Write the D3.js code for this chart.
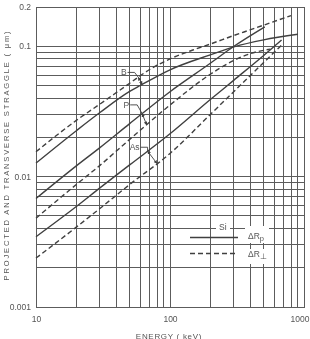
<!DOCTYPE html>
<html><head><meta charset="utf-8">
<script src="https://cdn.jsdelivr.net/npm/d3@7"></script>
<style>
html,body{margin:0;padding:0;background:#fff;overflow:hidden}
svg{display:block;filter:grayscale(100%)}
text{font-family:"Liberation Sans",Arial,sans-serif;fill:#555}
</style></head><body>
<svg id="c" width="310" height="339"></svg>
<script>
// ---- data ----
const energyTicks = [10, 100, 1000];
const energyTickLabels = ["10", "100", "1000"];
const straggleTicks = [0.001, 0.01, 0.1, 0.2];
const straggleTickLabels = ["0.001", "0.01", "0.1", "0.2"];

// Boron
const bRpE = [10, 20, 30, 50, 60, 100, 200, 300, 500, 900];
const bRpV = [0.0127, 0.0225, 0.031, 0.045, 0.050, 0.066, 0.086, 0.099, 0.112, 0.1235];
const bRtE = [10, 20, 30, 50, 70, 100, 150, 200, 300, 400, 600, 800];
const bRtV = [0.0155, 0.027, 0.036, 0.052, 0.066, 0.080, 0.094, 0.104, 0.121, 0.134, 0.155, 0.172];
// Phosphorus
const pRpE = [10, 20, 30, 50, 100, 200, 300, 510];
const pRpV = [0.0068, 0.0121, 0.0167, 0.0255, 0.0448, 0.074, 0.100, 0.141];
const pRtE = [10, 20, 30, 50, 100, 200, 300, 400, 560];
const pRtV = [0.0048, 0.0087, 0.0122, 0.0193, 0.0354, 0.061, 0.078, 0.088, 0.095];
// Arsenic
const asRpE = [10, 20, 30, 50, 100, 200, 300, 500, 680];
const asRpV = [0.00346, 0.0059, 0.0082, 0.0123, 0.0213, 0.039, 0.055, 0.085, 0.1117];
const asRtE = [10, 20, 30, 50, 100, 200, 300, 500, 700];
const asRtV = [0.00237, 0.0041, 0.0057, 0.0087, 0.01505, 0.030, 0.045, 0.075, 0.105];

// annotation labels (data coordinates)
const annLabels = ["B", "P", "As"];
const annTextE = [43, 45, 50];
const annTextV = [0.063, 0.0355, 0.0168];
const annUpperE = [58, 62, 68];
const annLowerE = [62, 67, 80];

// ---- chart ----
const svg = d3.select("#c");
const x = d3.scaleLog().domain([10, 1000]).range([36, 304]);
const y = d3.scaleLog().domain([0.001, 0.2]).range([307, 7]);
const ink = "#404040", gridC = "#5c5c5c", txt = "#555";
const ff = "Liberation Sans, Arial, sans-serif";

const defs = svg.append("defs");
defs.append("marker").attr("id", "ah").attr("viewBox", "0 0 10 10")
  .attr("refX", 9).attr("refY", 5).attr("markerWidth", 4).attr("markerHeight", 4)
  .attr("orient", "auto-start-reverse")
  .append("path").attr("d", "M0,0L10,5L0,10z").attr("fill", ink);

// grid
const xGridVals = x.ticks();
const yGridVals = y.ticks().filter(v => v <= 0.1 + 1e-9);
svg.append("g").selectAll("line").data(xGridVals).join("line")
  .attr("x1", d => x(d)).attr("x2", d => x(d)).attr("y1", y(0.2)).attr("y2", y(0.001))
  .attr("stroke", gridC).attr("stroke-width", 1).attr("shape-rendering", "crispEdges");
svg.append("g").selectAll("line").data(yGridVals).join("line")
  .attr("x1", x(10)).attr("x2", x(1000)).attr("y1", d => y(d)).attr("y2", d => y(d))
  .attr("stroke", gridC).attr("stroke-width", 1).attr("shape-rendering", "crispEdges");
svg.append("rect").attr("x", x(10)).attr("y", y(0.2))
  .attr("width", x(1000) - x(10)).attr("height", y(0.001) - y(0.2))
  .attr("fill", "none").attr("stroke", gridC).attr("shape-rendering", "crispEdges");

// axes labels
const xAx = d3.axisBottom(x).tickValues(energyTicks).tickSize(0).tickPadding(9)
  .tickFormat((d, i) => energyTickLabels[i]);
const gx = svg.append("g").attr("transform", `translate(0,${y(0.001)})`).call(xAx);
gx.select(".domain").remove();
gx.selectAll("text").attr("font-size", 8.5).attr("fill", txt).attr("font-family", ff);
gx.selectAll("text").each(function() {
  const el = d3.select(this);
  const w = this.getComputedTextLength();
  const tr = this.parentNode.getAttribute("transform");
  const px = +tr.match(/translate\(([-\d.]+)/)[1];
  if (px + w / 2 > 309.5) el.attr("text-anchor", "end").attr("x", 309.5 - px);
});

const yAx = d3.axisLeft(y).tickValues(straggleTicks).tickSize(0).tickPadding(5)
  .tickFormat((d, i) => straggleTickLabels[i]);
const gy = svg.append("g").attr("transform", `translate(${x(10)},0)`).call(yAx);
gy.select(".domain").remove();
gy.selectAll("text").attr("font-size", 8.5).attr("fill", txt).attr("font-family", ff);

svg.append("text").attr("x", 169).attr("y", 338.5).attr("text-anchor", "middle")
  .attr("font-size", 8).attr("letter-spacing", 0.7).attr("fill", txt).text("ENERGY ( keV)");
svg.append("text").attr("transform", "translate(8.5,155) rotate(-90)").attr("text-anchor", "middle")
  .attr("font-size", 7.6).attr("letter-spacing", 1.8).attr("fill", txt)
  .text("PROJECTED AND TRANSVERSE STRAGGLE ( μm)");

// curves
const series = [
  {e: bRpE, v: bRpV, dash: null}, {e: bRtE, v: bRtV, dash: "5,3"},
  {e: pRpE, v: pRpV, dash: null}, {e: pRtE, v: pRtV, dash: "5,3"},
  {e: asRpE, v: asRpV, dash: null}, {e: asRtE, v: asRtV, dash: "5,3"}
];
const line = d3.line().x(d => x(d[0])).y(d => y(d[1])).curve(d3.curveMonotoneX);
svg.append("g").selectAll("path").data(series).join("path")
  .attr("d", s => line(s.e.map((e, i) => [e, s.v[i]])))
  .attr("fill", "none").attr("stroke", ink).attr("stroke-width", 1.4)
  .attr("stroke-dasharray", s => s.dash);

// annotations
function interp(es, vs, E) {
  const le = Math.log10(E);
  for (let i = 0; i < es.length - 1; i++) {
    const a = Math.log10(es[i]), b = Math.log10(es[i + 1]);
    if (le >= a && le <= b) {
      const t = (le - a) / (b - a);
      return Math.pow(10, Math.log10(vs[i]) + t * (Math.log10(vs[i + 1]) - Math.log10(vs[i])));
    }
  }
  return vs[vs.length - 1];
}
const pairs = [[bRtE, bRtV, bRpE, bRpV], [pRpE, pRpV, pRtE, pRtV], [asRpE, asRpV, asRtE, asRtV]];
const ag = svg.append("g");
annLabels.forEach((lab, i) => {
  const tx = x(annTextE[i]), ty = y(annTextV[i]);
  const t = ag.append("text").attr("x", tx).attr("y", ty + 3).attr("font-size", 8.5)
    .attr("fill", txt).text(lab);
  const w = t.node().getComputedTextLength();
  const [ue, uv, le, lv] = pairs[i];
  const ux = x(annUpperE[i]), uy = y(interp(ue, uv, annUpperE[i]));
  const lx = x(annLowerE[i]), ly = y(interp(le, lv, annLowerE[i]));
  const hx = tx + w + 8;
  ag.append("path").attr("d", `M${tx + w + 1},${ty}L${hx},${ty}L${ux},${uy}`)
    .attr("fill", "none").attr("stroke", ink).attr("stroke-width", 0.9);
  ag.append("path").attr("d", `M${ux},${uy}L${lx},${ly}`)
    .attr("fill", "none").attr("stroke", ink).attr("stroke-width", 0.9)
    .attr("marker-start", "url(#ah)").attr("marker-end", "url(#ah)");
});

// legend
const lg = svg.append("g");
lg.append("rect").attr("x", 216).attr("y", 221).attr("width", 14).attr("height", 11).attr("fill", "#fff");
lg.append("text").attr("x", 219).attr("y", 230).attr("font-size", 8.5).attr("fill", txt).text("Si");
lg.append("line").attr("x1", 190).attr("x2", 238).attr("y1", 237.5).attr("y2", 237.5)
  .attr("stroke", ink).attr("stroke-width", 1.4);
lg.append("line").attr("x1", 190).attr("x2", 238).attr("y1", 253.5).attr("y2", 253.5)
  .attr("stroke", ink).attr("stroke-width", 1.4).attr("stroke-dasharray", "5,3");
lg.append("rect").attr("x", 245).attr("y", 226).attr("width", 24).attr("height", 17).attr("fill", "#fff");
lg.append("rect").attr("x", 245).attr("y", 249).attr("width", 24).attr("height", 15).attr("fill", "#fff");
const t1 = lg.append("text").attr("x", 248).attr("y", 239).attr("font-size", 8.5).attr("fill", txt);
t1.append("tspan").text("ΔR");
t1.append("tspan").attr("dy", 2).attr("font-size", 7.5).text("p");
const t2 = lg.append("text").attr("x", 248).attr("y", 257).attr("font-size", 8.5).attr("fill", txt);
t2.append("tspan").text("ΔR");
t2.append("tspan").attr("dy", 2).attr("font-size", 7.5).text("⊥");
</script>
</body></html>
